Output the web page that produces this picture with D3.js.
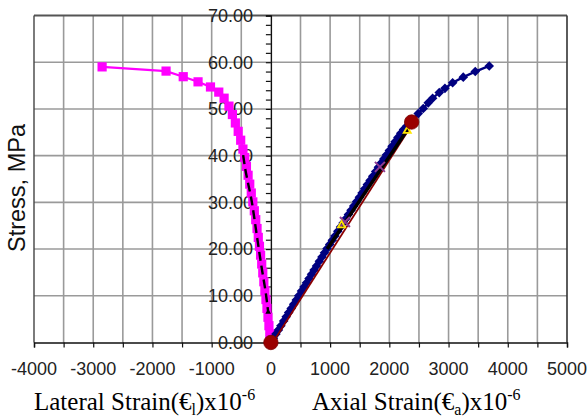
<!DOCTYPE html>
<html><head><meta charset="utf-8">
<script src="https://cdn.jsdelivr.net/npm/d3@7"></script>
<style>html,body{margin:0;padding:0;background:#fff;}svg{display:block;}</style>
</head><body>
<svg id="chart" width="587" height="419"></svg>
<script>
// ---- data ----
const xTicks = [-4000,-3000,-2000,-1000,0,1000,2000,3000,4000,5000];
const yTicks = [0,10,20,30,40,50,60,70];
// lateral strain curve (magenta squares)
const latStrain = [0,-8,-18,-33,-49,-66,-83,-101,-119,-137,-155,-174,-193,-213,-234,-256,-280,-305,-331,-357,-385,-413,-442,-472,-510,-552,-600,-650,-708,-790,-880,-1020,-1230,-1480,-1770,-2850];
const latStress = [0,0.6,1.8,3.6,5.4,7.3,9.2,11.1,13.0,14.9,16.8,18.7,20.6,22.5,24.4,26.3,28.2,30.1,32.0,33.9,35.8,37.7,39.6,41.4,43.3,45.2,47.0,48.8,50.6,52.3,53.6,54.7,55.8,56.9,58.1,59.0];
// axial strain curve (navy diamonds)
const axStrain = [0,42,85,127,169,216,258,300,343,385,428,470,517,559,602,644,686,729,771,818,862,905,949,993,1037,1081,1130,1175,1220,1264,1309,1354,1399,1449,1494,1539,1584,1629,1675,1720,1770,1815,1861,1907,1953,2000,2046,2098,2145,2193,2240,2292,2488,2573,2657,2731,2843,2939,3069,3248,3451,3687];
const axStress = [0,0.9,1.8,2.7,3.6,4.6,5.5,6.4,7.3,8.2,9.1,10.0,11.0,11.9,12.8,13.7,14.6,15.5,16.4,17.4,18.3,19.2,20.1,21.0,21.9,22.8,23.8,24.7,25.6,26.5,27.4,28.3,29.2,30.2,31.1,32.0,32.9,33.8,34.7,35.6,36.6,37.5,38.4,39.3,40.2,41.1,42.0,43.0,43.9,44.8,45.6,46.3,49.0,50.1,51.3,52.3,53.5,54.4,55.6,56.8,58.0,59.2];
// dashed fit on lateral curve
const fitLatStrain = [-468,-439,-326,-242,-157,-84,-46];
const fitLatStress = [40.1,37.6,30.4,23.3,16.1,10.4,6.5];
// straight reference lines on axial side
const secantStrain = [0,2377];
const secantStress = [0,47.2];
const tangentStrain = [950,2320];
const tangentStress = [20.0,45.8];
// special points
const circleStrain = [0,2377];
const circleStress = [0,47.2];
const crossStrain = [1250,1841];
const crossStress = [25.8,37.6];
const triStrain = [1194,2302];
const triStress = [25.1,45.3];

// ---- layout ----
const L = 34, R = 567, T = 15.5, B = 342.5;
const svg = d3.select('#chart');
const x = d3.scaleLinear().domain([-4000,5000]).range([L,R]);
const y = d3.scaleLinear().domain([0,70]).range([B,T]);

// grid
const g = svg.append('g');
g.selectAll('line.vg').data(d3.range(-3500,5000,500).filter(v=>v!==0)).join('line')
  .attr('x1',d=>x(d)).attr('x2',d=>x(d)).attr('y1',T).attr('y2',B)
  .attr('stroke','#9a9a9a').attr('stroke-width',1.6);
g.selectAll('line.hg').data([10,20,30,40,50,60]).join('line')
  .attr('x1',L).attr('x2',R).attr('y1',d=>y(d)).attr('y2',d=>y(d))
  .attr('stroke','#9a9a9a').attr('stroke-width',1.6);
// border
g.append('line').attr('x1',L).attr('x2',R).attr('y1',T).attr('y2',T).attr('stroke','#555').attr('stroke-width',1.8);
g.append('line').attr('x1',R).attr('x2',R).attr('y1',T).attr('y2',B).attr('stroke','#333').attr('stroke-width',1.6);
g.append('line').attr('x1',L).attr('x2',L).attr('y1',T).attr('y2',B).attr('stroke','#444').attr('stroke-width',1.4);

// x axis
const xAxis = d3.axisBottom(x).tickValues(d3.range(-4000,5001,500)).tickSize(5).tickFormat('');
const xa = svg.append('g').attr('transform',`translate(0,${B})`).call(xAxis);
xa.select('.domain').attr('stroke','#111').attr('stroke-width',1.4);
xa.selectAll('.tick line').attr('stroke','#111').attr('stroke-width',1.2);
svg.append('g').selectAll('text').data(xTicks).join('text')
  .attr('x',d=>x(d)).attr('y',B+32).attr('text-anchor','middle')
  .attr('font-family','Liberation Sans, Arial, sans-serif').attr('font-size',18).attr('fill','#222')
  .text(d=>d);

// y axis at x=0
const yAxis = d3.axisLeft(y).tickValues(d3.range(0,70.1,2)).tickSize(5).tickFormat('');
const ya = svg.append('g').attr('transform',`translate(${x(0)},0)`).call(yAxis);
ya.select('.domain').attr('stroke','#111').attr('stroke-width',1.4);
ya.selectAll('.tick line').attr('stroke','#111').attr('stroke-width',1.2);
svg.append('g').selectAll('text').data(yTicks).join('text')
  .attr('x',253).attr('y',d=>y(d)+6.4).attr('text-anchor','end')
  .attr('font-family','Liberation Sans, Arial, sans-serif').attr('font-size',18).attr('fill','#222')
  .text(d=>d.toFixed(2));

// lateral curve
const latData = latStrain.map((v,i)=>[v,latStress[i]]);
const line = d3.line().x(d=>x(d[0])).y(d=>y(d[1]));
svg.append('path').attr('d',line(latData)).attr('fill','none').attr('stroke','#ff00ff').attr('stroke-width',2.2);
svg.append('g').selectAll('rect').data(latData).join('rect')
  .attr('x',d=>x(d[0])-4.6).attr('y',d=>y(d[1])-4.6).attr('width',9.2).attr('height',9.2).attr('fill','#ff00ff');
// dashed fit
const fitData = fitLatStrain.map((v,i)=>[v,fitLatStress[i]]);
svg.append('path').attr('d',d3.line().curve(d3.curveMonotoneY).x(d=>x(d[0])).y(d=>y(d[1]))(fitData))
  .attr('fill','none').attr('stroke','#000').attr('stroke-width',2.4).attr('stroke-dasharray','9,5');
svg.append('path').attr('d',d3.symbol(d3.symbolTriangle,14)())
  .attr('transform',`translate(${x(fitLatStrain[fitLatStrain.length-1])},${y(fitLatStress[fitLatStress.length-1])})`).attr('fill','#000');

// axial curve
const axData = axStrain.map((v,i)=>[v,axStress[i]]);
svg.append('path').attr('d',line(axData)).attr('fill','none').attr('stroke','#000080').attr('stroke-width',2.4);
svg.append('g').selectAll('path').data(axData).join('path')
  .attr('d','M0,-4.8L4.8,0L0,4.8L-4.8,0Z')
  .attr('transform',d=>`translate(${x(d[0])},${y(d[1])})`).attr('fill','#000080');
// secant (dark red) line
svg.append('path').attr('d',line(secantStrain.map((v,i)=>[v,secantStress[i]])))
  .attr('stroke','#8b0000').attr('stroke-width',1.8).attr('fill','none')
  .attr('transform','translate(1.2,1.2)');
// tangent (black) line
svg.append('path').attr('d',line(tangentStrain.map((v,i)=>[v,tangentStress[i]])))
  .attr('stroke','#000').attr('stroke-width',3.4).attr('fill','none');
// crosses
svg.append('g').selectAll('path').data(crossStrain.map((v,i)=>[v,crossStress[i]])).join('path')
  .attr('d','M-5,-5L5,5M-5,5L5,-5')
  .attr('transform',d=>`translate(${x(d[0])},${y(d[1])})`).attr('stroke','#8e3b93').attr('stroke-width',2).attr('fill','none');
// yellow triangles
svg.append('g').selectAll('path').data(triStrain.map((v,i)=>[v,triStress[i]])).join('path')
  .attr('d',d3.symbol(d3.symbolTriangle,22)())
  .attr('transform',d=>`translate(${x(d[0])},${y(d[1])})`).attr('stroke','#ffe600').attr('stroke-width',1.8).attr('fill','none');
// circles
svg.append('g').selectAll('circle').data(circleStrain.map((v,i)=>[v,circleStress[i]])).join('circle')
  .attr('cx',d=>x(d[0])).attr('cy',d=>y(d[1])).attr('r',7.2).attr('fill','#9a0000').attr('stroke','#7a0000').attr('stroke-width',0.8);

// titles
svg.append('text').attr('transform','translate(24.5,188) rotate(-90)').attr('text-anchor','middle')
  .attr('font-family','Liberation Sans, Arial, sans-serif').attr('font-size',23.5).attr('fill','#111')
  .text('Stress, MPa');
const t1 = svg.append('text').attr('x',34).attr('y',410)
  .attr('font-family','Liberation Serif, Times New Roman, serif').attr('font-size',25).attr('fill','#000');
t1.append('tspan').text('Lateral Strain(€');
t1.append('tspan').attr('font-size',16).attr('dy',5).text('l');
t1.append('tspan').attr('dy',-5).text(')x10');
t1.append('tspan').attr('font-size',16).attr('dy',-10).text('-6');
const t2 = svg.append('text').attr('x',312).attr('y',410)
  .attr('font-family','Liberation Serif, Times New Roman, serif').attr('font-size',25).attr('fill','#000');
t2.append('tspan').text('Axial Strain(€');
t2.append('tspan').attr('font-size',16).attr('dy',5).text('a');
t2.append('tspan').attr('dy',-5).text(')x10');
t2.append('tspan').attr('font-size',16).attr('dy',-10).text('-6');
</script>
</body></html>
